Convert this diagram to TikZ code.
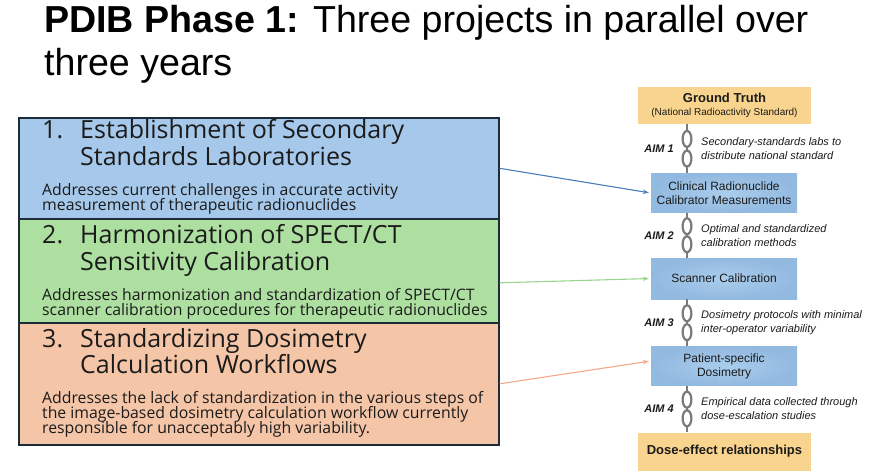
\documentclass[tikz,border=0pt]{standalone}
\usepackage{fontspec}
\setmainfont{Open Sans}
\newfontfamily\arialfont{Liberation Sans}
\usetikzlibrary{arrows.meta,positioning,decorations.markings}
\definecolor{pblue}{HTML}{A6C8EA}
\definecolor{pgreen}{HTML}{ADDFA0}
\definecolor{psalmon}{HTML}{F5C5A8}
\definecolor{boxline}{HTML}{1E2B38}
\definecolor{ink}{HTML}{1B1B1B}
\definecolor{gold}{HTML}{F9D48E}
\definecolor{stepin}{HTML}{AACDEC}
\definecolor{stepout}{HTML}{92B9E0}
\definecolor{chaingray}{HTML}{7A7A7A}
\definecolor{ablue}{HTML}{4A7DBA}
\definecolor{agreen}{HTML}{98D48C}
\definecolor{asalmon}{HTML}{F1A88C}

\begin{document}
\begin{tikzpicture}[x=1pt,y=-1pt]

    \tikzset{
      projbox/.style={draw=boxline, line width=1.6pt, minimum width=480pt, inner sep=0pt, anchor=north west},
      head/.style={anchor=base west, inner sep=0pt, text=ink, font=\fontsize{25}{29}\selectfont},
      desc/.style={anchor=base west, inner sep=0pt, text=ink, font=\fontsize{15.8}{18}\selectfont},
      stepbox/.style={minimum width=146pt, inner sep=0pt, align=center, text=ink,
        inner color=stepin, outer color=stepout, font=\arialfont\fontsize{12}{14}\selectfont},
      goalbox/.style={fill=gold, minimum width=173pt, inner sep=0pt, align=center, text=ink,
        font=\arialfont\fontsize{13}{15}\selectfont},
      aim/.style={inner sep=0pt, text=ink, font=\arialfont\bfseries\itshape\fontsize{11}{13}\selectfont},
      note/.style={inner sep=0pt, align=left, text=ink, font=\arialfont\itshape\fontsize{11}{14}\selectfont},
      chain/.style={draw=chaingray, line width=2.6pt,
        postaction={decorate, decoration={markings,
          mark=at position 0.3 with {\draw[chaingray, line width=2.2pt, fill=white] (0,0) ellipse [x radius=8pt, y radius=4.4pt];},
          mark=at position 0.7 with {\draw[chaingray, line width=2.2pt, fill=white] (0,0) ellipse [x radius=8pt, y radius=4.4pt];}}}},
      link/.style={line width=1.1pt, -{Stealth[length=6pt,width=4.5pt]}, shorten >=2pt},
    }
    \useasboundingbox (0,0) rectangle (875,476);

    % title
    \node[anchor=base west, inner sep=0pt, text=black, font=\arialfont\fontsize{37.6}{44}\selectfont] (title1) at (44,33) {\textbf{PDIB Phase 1:} Three projects in parallel over};
    \node[anchor=base west, inner sep=0pt, text=black, font=\arialfont\fontsize{37.6}{44}\selectfont] (title2) at (44,76) {three years};

    % the three projects
    \node[projbox, fill=pblue, minimum height=101pt] (p1) at (18,117) {};
    \node[projbox, fill=pgreen, minimum height=104pt] (p2) at (18,218) {};
    \node[projbox, fill=psalmon, minimum height=122pt] (p3) at (18,322) {};

    \node[head] (p1n) at (42,139) {1.};
    \node[head] (p1a) at (80,139) {Establishment of Secondary};
    \node[head] (p1b) at (80,165) {Standards Laboratories};
    \node[desc] (p1c) at (42,195) {Addresses current challenges in accurate activity};
    \node[desc] (p1d) at (42,210) {measurement of therapeutic radionuclides};

    \node[head] (p2n) at (42,243) {2.};
    \node[head] (p2a) at (80,243) {Harmonization of SPECT/CT};
    \node[head] (p2b) at (80,270) {Sensitivity Calibration};
    \node[desc] (p2c) at (42,300) {Addresses harmonization and standardization of SPECT/CT};
    \node[desc] (p2d) at (42,315) {scanner calibration procedures for therapeutic radionuclides};

    \node[head] (p3n) at (42,347) {3.};
    \node[head] (p3a) at (80,347) {Standardizing Dosimetry};
    \node[head] (p3b) at (80,373) {Calculation Workflows};
    \node[desc] (p3c) at (42,403) {Addresses the lack of standardization in the various steps of};
    \node[desc] (p3d) at (42,418) {the image-based dosimetry calculation workflow currently};
    \node[desc] (p3e) at (42,433) {responsible for unacceptably high variability.};

    % the chain
    \node[goalbox, minimum height=37pt] (gt) at (724.5,105.5) {{\bfseries Ground Truth}\\[-2pt]{\fontsize{10}{12}\selectfont (National Radioactivity Standard)}};
    \node[stepbox, minimum height=39pt] (crc) at (724,193) {Clinical Radionuclide\\Calibrator Measurements};
    \node[stepbox, minimum height=41pt] (scan) at (724,278.5) {Scanner Calibration};
    \node[stepbox, minimum height=39pt] (pat) at (724,366) {Patient-specific\\Dosimetry};
    \node[goalbox, minimum height=38pt] (dose) at (724.5,451.5) {\bfseries Dose-effect relationships};

    \coordinate (cx) at (687,0);
    \foreach \a/\b/\n in {gt/crc/1, crc/scan/2, scan/pat/3, pat/dose/4}
      \draw[chain] (\a.south -| cx) -- (\b.north -| cx) coordinate[midway] (m\n);

    \node[aim, left=13pt of m1] (aim1) {AIM 1};
    \node[aim, left=13pt of m2] (aim2) {AIM 2};
    \node[aim, left=13pt of m3] (aim3) {AIM 3};
    \node[aim, left=13pt of m4] (aim4) {AIM 4};
    \node[note, right=14pt of m1] (n1) {Secondary-standards labs to\\distribute national standard};
    \node[note, right=14pt of m2] (n2) {Optimal and standardized\\calibration methods};
    \node[note, right=14pt of m3] (n3) {Dosimetry protocols with minimal\\inter-operator variability};
    \node[note, right=14pt of m4] (n4) {Empirical data collected through\\dose-escalation studies};

    % projects to steps
    \coordinate[below=12pt of p2.east] (p2o);
    \coordinate[above=5pt of pat.west] (pati);
    \draw[link, ablue] (p1.east) -- (crc.west);
    \draw[link, agreen] (p2o) -- (scan.west);
    \draw[link, asalmon] (p3.east) -- (pati);

\end{tikzpicture}
\end{document}
